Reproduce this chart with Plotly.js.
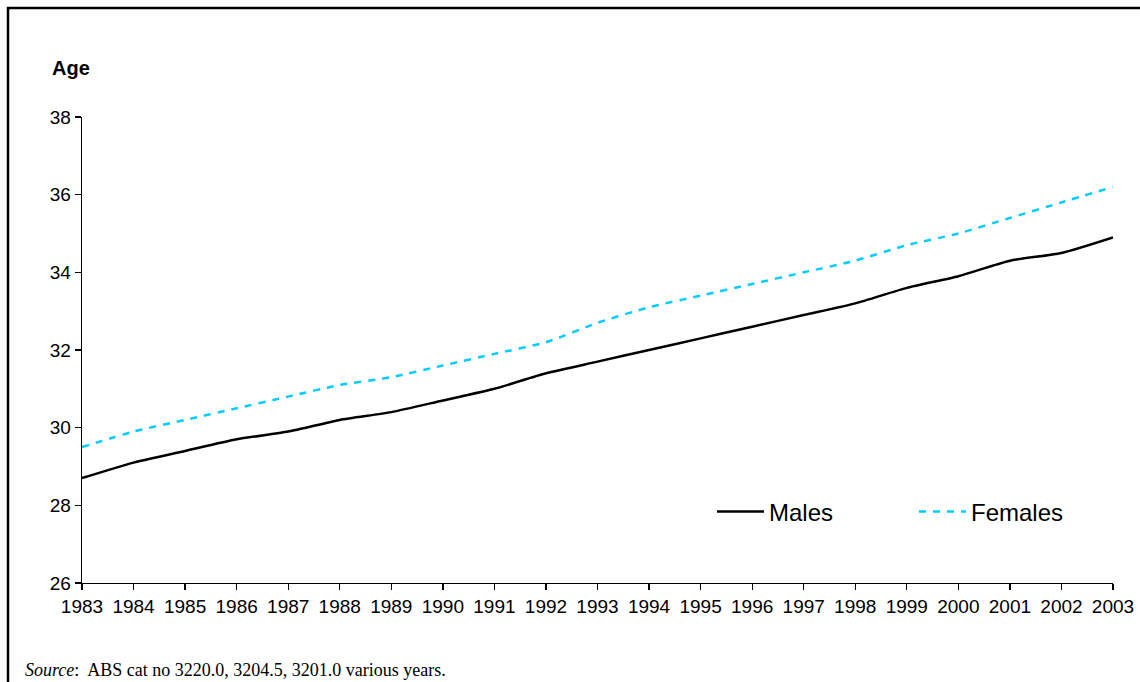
<!DOCTYPE html>
<html>
<head>
<meta charset="utf-8">
<script src="https://cdn.plot.ly/plotly-3.0.1.min.js"></script>
<style>
  html, body { margin: 0; padding: 0; background: #fff; }
  #chart { width: 1140px; height: 682px; }
</style>
</head>
<body>
<div id="chart"></div>
<script>
// ---- data ----
const years = [1983,1984,1985,1986,1987,1988,1989,1990,1991,1992,1993,1994,1995,1996,1997,1998,1999,2000,2001,2002,2003];
const males = [28.7,29.1,29.4,29.7,29.9,30.2,30.4,30.7,31.0,31.4,31.7,32.0,32.3,32.6,32.9,33.2,33.6,33.9,34.3,34.5,34.9];
const females = [29.5,29.9,30.2,30.5,30.8,31.1,31.3,31.6,31.9,32.2,32.7,33.1,33.4,33.7,34.0,34.3,34.7,35.0,35.4,35.8,36.2];
const yTicks = [26,28,30,32,34,36,38];
const seriesNames = ['Males','Females'];

// ---- layout geometry ----
const W = 1140, H = 682;
const M = {l: 82, r: 27, t: 117, b: 99, autoexpand: false};
const PW = W - M.l - M.r, PH = H - M.t - M.b;
const px = x => (x - M.l) / PW;
const py = y => (H - M.b - y) / PH;

const traces = [
  {x: years, y: males, name: seriesNames[0], type: 'scatter', mode: 'lines',
   line: {color: '#000000', width: 2.5, shape: 'spline', smoothing: 0.6}},
  {x: years, y: females, name: seriesNames[1], type: 'scatter', mode: 'lines',
   line: {color: '#00CCFF', width: 2.5, dash: '7px,7px', shape: 'spline', smoothing: 0.6}}
];

const axisFont = {family: 'Liberation Sans, Arial, sans-serif', size: 19, color: '#000'};

const layout = {
  width: W, height: H,
  margin: M,
  paper_bgcolor: '#fff', plot_bgcolor: '#fff',
  showlegend: true,
  legend: {
    orientation: 'h', x: px(712), xanchor: 'left', y: py(512), yanchor: 'middle',
    font: {family: 'Liberation Sans, Arial, sans-serif', size: 24, color: '#000'},
    bgcolor: 'rgba(0,0,0,0)', itemwidth: 47,
    entrywidth: 140, entrywidthmode: 'pixels', traceorder: 'normal'
  },
  xaxis: {
    range: [1983, 2003], tickvals: years, ticktext: years.map(String),
    showgrid: false, zeroline: false, showline: true, linecolor: '#000', linewidth: 1.3,
    ticks: 'outside', ticklen: 6, tickwidth: 1.3, tickcolor: '#000',
    tickfont: axisFont, fixedrange: true, automargin: false
  },
  yaxis: {
    range: [26, 38], tickvals: yTicks,
    showgrid: false, zeroline: false, showline: true, linecolor: '#000', linewidth: 1.3,
    ticks: 'outside', ticklen: 6, tickwidth: 1.3, tickcolor: '#000',
    tickfont: axisFont, fixedrange: true, automargin: false
  },
  annotations: [
    {xref: 'paper', yref: 'paper', x: px(71), y: py(68), xanchor: 'center', yanchor: 'middle',
     text: '<b>Age</b>', showarrow: false,
     font: {family: 'Liberation Sans, Arial, sans-serif', size: 20, color: '#000'}},
    {xref: 'paper', yref: 'paper', x: px(23), y: py(670), xanchor: 'left', yanchor: 'middle',
     text: '<i>Source</i>:&nbsp; ABS cat no 3220.0, 3204.5, 3201.0 various years.', showarrow: false,
     font: {family: 'Liberation Serif, Times New Roman, serif', size: 18, color: '#000'}}
  ],
  shapes: [
    {type: 'line', xref: 'paper', yref: 'paper', x0: px(8), x1: px(8), y0: py(7), y1: py(700),
     line: {color: '#000', width: 2.5}},
    {type: 'line', xref: 'paper', yref: 'paper', x0: px(7), x1: px(1160), y0: py(8), y1: py(8),
     line: {color: '#000', width: 2.5}}
  ]
};

Plotly.newPlot('chart', traces, layout, {displayModeBar: false, staticPlot: true});
</script>
</body>
</html>
